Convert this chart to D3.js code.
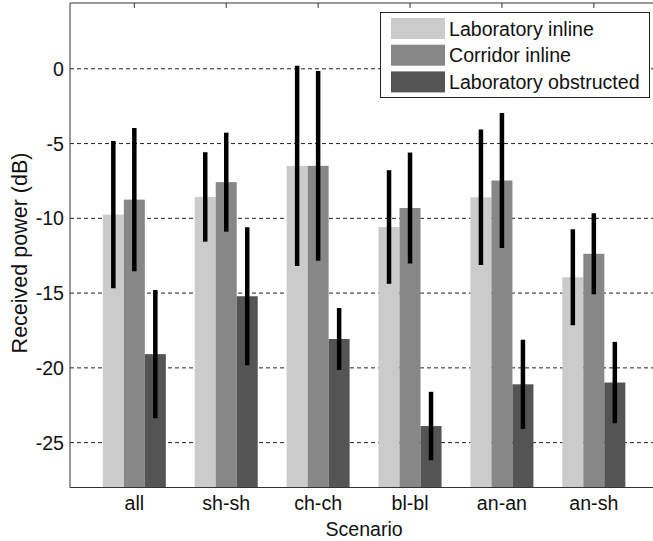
<!DOCTYPE html>
<html>
<head>
<meta charset="utf-8">
<script src="https://cdn.jsdelivr.net/npm/d3@7"></script>
<style>
  body { margin: 0; background: #fff; }
  text { font-family: "Liberation Sans", Arial, sans-serif; fill: #111; }
</style>
</head>
<body>
<div id="chart"></div>
<script>
// Scenario categories and series
const categories = ["all", "sh-sh", "ch-ch", "bl-bl", "an-an", "an-sh"];
const seriesNames = ["Laboratory inline", "Corridor inline", "Laboratory obstructed"];

// Mean received power (dB) per series
const labInline = [-9.75, -8.57, -6.49, -10.58, -8.59, -13.94];
const corridorInline = [-8.75, -7.58, -6.49, -9.31, -7.47, -12.37];
const labObstructed = [-19.08, -15.21, -18.07, -23.89, -21.1, -20.98];

// Error bar half-lengths (dB)
const labInlineErr = [4.92, 2.99, 6.7, 3.8, 4.53, 3.21];
const corridorInlineErr = [4.79, 3.31, 6.35, 3.71, 4.51, 2.71];
const labObstructedErr = [4.29, 4.62, 2.07, 2.29, 2.98, 2.72];

const yTicks = [-25, -20, -15, -10, -5, 0];

const width = 653;
const height = 541;

const svg = d3.select("#chart")
  .append("svg")
  .attr("width", width)
  .attr("height", height);

// Axes box
const plotLeft = 70, plotTop = 3, plotBottom = 487.5;

const x = d3.scaleLinear()
  .domain([0.3, 6.7])
  .range([plotLeft, plotLeft + 6.4 * 91.9]);

const y = d3.scaleLinear()
  .domain([-28, 4.4])
  .range([plotBottom, plotTop]);

const colors = ["#cbcbcb", "#878787", "#545454"];
const means = [labInline, corridorInline, labObstructed];
const errs = [labInlineErr, corridorInlineErr, labObstructedErr];
const barW = 0.2285;
const fontSize = "19.6px";

// Grid lines (behind bars)
svg.append("g")
  .selectAll("line")
  .data(yTicks)
  .enter()
  .append("line")
  .attr("x1", plotLeft)
  .attr("x2", width)
  .attr("y1", d => y(d))
  .attr("y2", d => y(d))
  .attr("stroke", "#222")
  .attr("stroke-width", 1)
  .attr("stroke-dasharray", "4,3");

// Bars
const rows = [];
means.forEach((s, si) => {
  s.forEach((v, ci) => {
    rows.push({ si: si, ci: ci, v: v, e: errs[si][ci] });
  });
});

svg.append("g")
  .selectAll("rect")
  .data(rows)
  .enter()
  .append("rect")
  .attr("x", d => x(d.ci + 1 + (d.si - 1) * barW - barW / 2))
  .attr("width", d => x(barW) - x(0))
  .attr("y", d => y(d.v))
  .attr("height", d => plotBottom - y(d.v))
  .attr("fill", d => colors[d.si]);

// Error bars
svg.append("g")
  .selectAll("line")
  .data(rows)
  .enter()
  .append("line")
  .attr("x1", d => x(d.ci + 1 + (d.si - 1) * barW))
  .attr("x2", d => x(d.ci + 1 + (d.si - 1) * barW))
  .attr("y1", d => y(d.v + d.e))
  .attr("y2", d => y(d.v - d.e))
  .attr("stroke", "#000")
  .attr("stroke-width", 4.5);

// Axis lines
svg.append("line")
  .attr("x1", plotLeft).attr("x2", width)
  .attr("y1", plotBottom).attr("y2", plotBottom)
  .attr("stroke", "#333");
svg.append("line")
  .attr("x1", plotLeft).attr("x2", width)
  .attr("y1", plotTop).attr("y2", plotTop)
  .attr("stroke", "#333");
svg.append("line")
  .attr("x1", plotLeft).attr("x2", plotLeft)
  .attr("y1", plotTop).attr("y2", plotBottom)
  .attr("stroke", "#333");

// Top tick marks at categories
svg.append("g")
  .selectAll("line")
  .data(categories)
  .enter()
  .append("line")
  .attr("x1", (d, i) => x(i + 1))
  .attr("x2", (d, i) => x(i + 1))
  .attr("y1", plotTop)
  .attr("y2", plotTop + 5)
  .attr("stroke", "#333");

// Y tick labels
svg.append("g")
  .selectAll("text")
  .data(yTicks)
  .enter()
  .append("text")
  .attr("x", plotLeft - 6)
  .attr("y", d => y(d))
  .attr("dy", "0.36em")
  .attr("text-anchor", "end")
  .style("font-size", fontSize)
  .text(d => d);

// X tick labels
svg.append("g")
  .selectAll("text")
  .data(categories)
  .enter()
  .append("text")
  .attr("x", (d, i) => x(i + 1))
  .attr("y", 510)
  .attr("text-anchor", "middle")
  .style("font-size", fontSize)
  .text(d => d);

// Axis titles
svg.append("text")
  .attr("x", x(3.5))
  .attr("y", 536)
  .attr("text-anchor", "middle")
  .style("font-size", fontSize)
  .text("Scenario");

svg.append("text")
  .attr("transform", "translate(27, 253) rotate(-90)")
  .attr("text-anchor", "middle")
  .style("font-size", "21.5px")
  .text("Received power (dB)");

// Legend
const legend = svg.append("g");
legend.append("rect")
  .attr("x", 380.5).attr("y", 12.5)
  .attr("width", 269).attr("height", 85)
  .attr("fill", "#fff")
  .attr("stroke", "#222");

const items = legend.selectAll("g.item")
  .data(seriesNames)
  .enter()
  .append("g")
  .attr("class", "item")
  .attr("transform", (d, i) => `translate(0, ${i * 26.7})`);

items.append("rect")
  .attr("x", 391).attr("y", 18)
  .attr("width", 54).attr("height", 21)
  .attr("fill", (d, i) => colors[i]);

items.append("text")
  .attr("x", 449)
  .attr("y", 35.5)
  .style("font-size", fontSize)
  .text(d => d);
</script>
</body>
</html>
